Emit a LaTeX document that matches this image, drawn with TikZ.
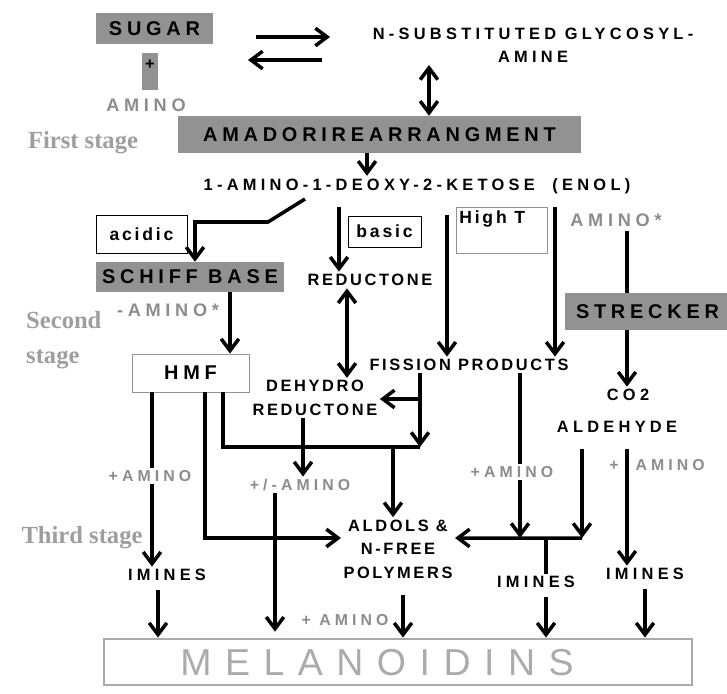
\documentclass[tikz,border=0pt]{standalone}
\usepackage{fontspec}
\setmainfont{Liberation Sans}
\newfontfamily\spacedfont[LetterSpace=16]{Liberation Sans}
\newfontfamily\widerfont[LetterSpace=26]{Liberation Sans}
\newfontfamily\boxfont[LetterSpace=24]{Liberation Sans}
\newfontfamily\widefont[LetterSpace=36]{Liberation Sans}
\newfontfamily\stagefont{Liberation Serif}
\usetikzlibrary{arrows.meta,calc}
\definecolor{boxgray}{HTML}{929292}
\definecolor{labelgray}{HTML}{8C8C8C}
\definecolor{stagegray}{HTML}{9E9E9E}
\definecolor{melangray}{HTML}{ABABAB}

\begin{document}
\begin{tikzpicture}[x=0.03cm,y=-0.03cm,
  lbl/.style={font=\spacedfont\bfseries\fontsize{14}{20}\selectfont, inner sep=2pt, align=center},
  widelbl/.style={lbl, font=\widerfont\bfseries\fontsize{14}{20}\selectfont},
  graylbl/.style={lbl, font=\widerfont\bfseries\fontsize{13.5}{20}\selectfont, text=labelgray},
  biggray/.style={font=\widerfont\bfseries\fontsize{15.5}{18}\selectfont, text=labelgray},
  midlbl/.style={font=\spacedfont\bfseries\fontsize{15}{18}\selectfont},
  stage/.style={font=\stagefont\bfseries\fontsize{21}{30}\selectfont, text=stagegray, align=left, inner sep=0pt},
  graybox/.style={font=\boxfont\bfseries\fontsize{17}{20}\selectfont, fill=boxgray, inner sep=0pt},
  framebox/.style={midlbl, draw=black, line width=0.8pt, inner sep=0pt},
  arr/.style={line width=3pt, -{Straight Barb[length=10pt,width=15pt]}},
  darr/.style={line width=3pt, {Straight Barb[length=10pt,width=15pt]}-{Straight Barb[length=10pt,width=15pt]}},
  plain/.style={line width=3pt}]
\useasboundingbox (0,0) rectangle (727,693);

\node[graybox, minimum width=3.51cm, minimum height=0.93cm] (sugar) at (154.5,28.5) {SUGAR};
\node[graybox, minimum width=0.48cm, minimum height=1.11cm, text depth=0.4cm,
  font=\bfseries\fontsize{14}{14}\selectfont] (plus) at (150,71.5) {+};
\node[biggray] (aminoA) at (146,105) {AMINO};
\node[widelbl] (glyco) at (533,45) {N-SUBSTITUTED GLYCOSYL-\\AMINE};
\node[graybox, minimum width=12.09cm, minimum height=1.11cm] (amadori) at (379.5,134.5) {AMADORIREARRANGMENT};
\node[stage] (first) at (83,143) {First stage};
\node[widelbl] (enol) at (417,186) {1-AMINO-1-DEOXY-2-KETOSE \ (ENOL)};
\node[framebox, minimum width=2.73cm, minimum height=1.14cm] (acidic) at (141.5,234) {acidic};
\node[framebox, minimum width=2.19cm, minimum height=0.93cm] (basic) at (384.5,231.5) {basic};
\node[framebox, draw=boxgray, minimum width=2.73cm, minimum height=1.38cm,
  label={[midlbl, anchor=north west, inner sep=3pt]north west:High T}] (hight) at (501.5,230) {};
\node[biggray] (aminoS) at (616,220) {AMINO*};
\node[graybox, minimum width=5.64cm, minimum height=0.90cm] (schiff) at (190,277) {SCHIFF BASE};
\node[biggray] (aminoM) at (168,310) {-AMINO*};
\node[stage, anchor=west] (second) at (26,340) {Second\\stage};
\node[framebox, draw=boxgray, font=\boxfont\bfseries\fontsize{17}{20}\selectfont,
  minimum width=3.51cm, minimum height=1.14cm] (hmf) at (190.5,373) {HMF};
\node[lbl] (reductone) at (370,280) {REDUCTONE};
\node[lbl] (dehydro) at (315,398) {DEHYDRO\\REDUCTONE};
\node[lbl] (fission) at (469,365) {FISSION PRODUCTS};
\node[graybox, minimum width=4.95cm, minimum height=1.11cm] (strecker) at (647.5,311.5) {STRECKER};
\node[widelbl] (co2) at (628,395) {CO2};
\node[widelbl] (aldehyde) at (617,427) {ALDEHYDE};
\node[graylbl] (aminoL) at (150,476) {+AMINO};
\node[graylbl] (aminoPM) at (300,485) {+/-AMINO};
\node[stage] (third) at (82,538) {Third stage};
\node[lbl] (aldols) at (398,549) {ALDOLS \&\\N-FREE\\POLYMERS};
\node[graylbl] (aminoR) at (512,472) {+AMINO};
\node[graylbl] (aminoRR) at (657,465) {+ \ AMINO};
\node[widelbl] (iminesA) at (167,575) {IMINES};
\node[widelbl] (iminesB) at (536,582) {IMINES};
\node[widelbl] (iminesC) at (645,574) {IMINES};
\node[graylbl] (aminoB) at (345,620) {+ AMINO};
\node[draw=melangray, line width=2.5pt, minimum width=17.64cm, minimum height=1.38cm] (melan) at (398,662) {};
\node[font=\widefont\fontsize{32}{32}\selectfont, text=melangray] (melantext) at (377,663) {MELANOIDINS};

\coordinate (eqR1) at (256,37);
\coordinate (eqR2) at (330,37);
\coordinate (eqL1) at (322,60);
\coordinate (eqL2) at (248,60);
\coordinate (acidA) at (305,199);
\coordinate (acidB) at (268,222);
\coordinate (fisBr) at (420,399);
\coordinate (junA) at (420,447);
\coordinate (junB) at (582,538);
\coordinate (colEq) at (429,0);
\coordinate (colAm) at (367,0);
\coordinate (colAcid) at (195,0);
\coordinate (colBas) at (339,0);
\coordinate (colRed) at (347,0);
\coordinate (colHiL) at (447,0);
\coordinate (colHiR) at (555,0);
\coordinate (colStr) at (627,0);
\coordinate (colSch) at (230,0);
\coordinate (colHl) at (152,0);
\coordinate (colHm) at (205,0);
\coordinate (colHr) at (223,0);
\coordinate (colAld) at (393,0);
\coordinate (colDeh) at (303,0);
\coordinate (colPM) at (275,0);
\coordinate (colFB) at (520,0);
\coordinate (colImB) at (546,0);
\coordinate (colMa) at (158,0);
\coordinate (colMb) at (403,0);
\coordinate (colMc) at (645,0);

\draw[arr] (eqR1) -- (eqR2);
\draw[arr] (eqL1) -- (eqL2);
\draw[darr] (glyco.south -| colEq) -- (amadori.north -| colEq);
\draw[arr] (amadori.south -| colAm) -- (enol.north -| colAm);
\draw[arr] (acidA) -- (acidB) -- (acidB -| colAcid) -- (schiff.north -| colAcid);
\draw[arr, shorten <=9pt] (enol.south -| colBas) -- (reductone.north -| colBas);
\draw[darr] (reductone.south -| colRed) -- (dehydro.north -| colRed);
\draw[arr, shorten <=16pt] (enol.south -| colHiL) -- (fission.north -| colHiL);
\draw[arr, shorten <=9pt] (enol.south -| colHiR) -- (fission.north -| colHiR);
\draw[plain] (aminoS.south -| colStr) -- (strecker.north -| colStr);
\draw[arr] (strecker.south -| colStr) -- (co2.north -| colStr);
\draw[arr] (schiff.south -| colSch) -- (hmf.north -| colSch);
\draw[arr] (fission.south -| junA) -- (junA);
\draw[arr] (fisBr) -- (dehydro.east |- fisBr);
\draw[plain] (hmf.south -| colHl) -- (aminoL.north -| colHl);
\draw[arr] (aminoL.south -| colHl) -- (iminesA.north -| colHl);
\draw[arr] (hmf.south -| colHm) |- ([yshift=0.33cm]aldols.west);
\draw[plain] (hmf.south -| colHr) |- (junA);
\draw[arr] (junA -| colAld) -- (aldols.north -| colAld);
\draw[arr] (dehydro.south -| colDeh) -- (aminoPM.north -| colDeh);
\draw[arr, shorten >=5pt] (aminoPM.south -| colPM) -- (melan.north -| colPM);
\draw[plain] (fission.south -| colFB) -- (aminoR.north -| colFB);
\draw[arr] (aminoR.south -| colFB) -- (junB -| colFB);
\draw[arr, shorten <=12pt] (aldehyde.south -| junB) -- (junB);
\draw[arr] (junB) -- ([yshift=0.33cm]aldols.east);
\draw[plain] (junB -| colImB) -- (iminesB.north -| colImB);
\draw[arr, shorten <=12pt] (aldehyde.south -| colStr) -- (iminesC.north -| colStr);
\draw[arr, shorten <=6pt] (iminesA.south -| colMa) -- (melan.north -| colMa);
\draw[arr, shorten <=12pt] (aldols.south -| colMb) -- (melan.north -| colMb);
\draw[arr, shorten <=6pt] (iminesB.south -| colImB) -- (melan.north -| colImB);
\draw[arr, shorten <=6pt] (iminesC.south -| colMc) -- (melan.north -| colMc);
\end{tikzpicture}
\end{document}
